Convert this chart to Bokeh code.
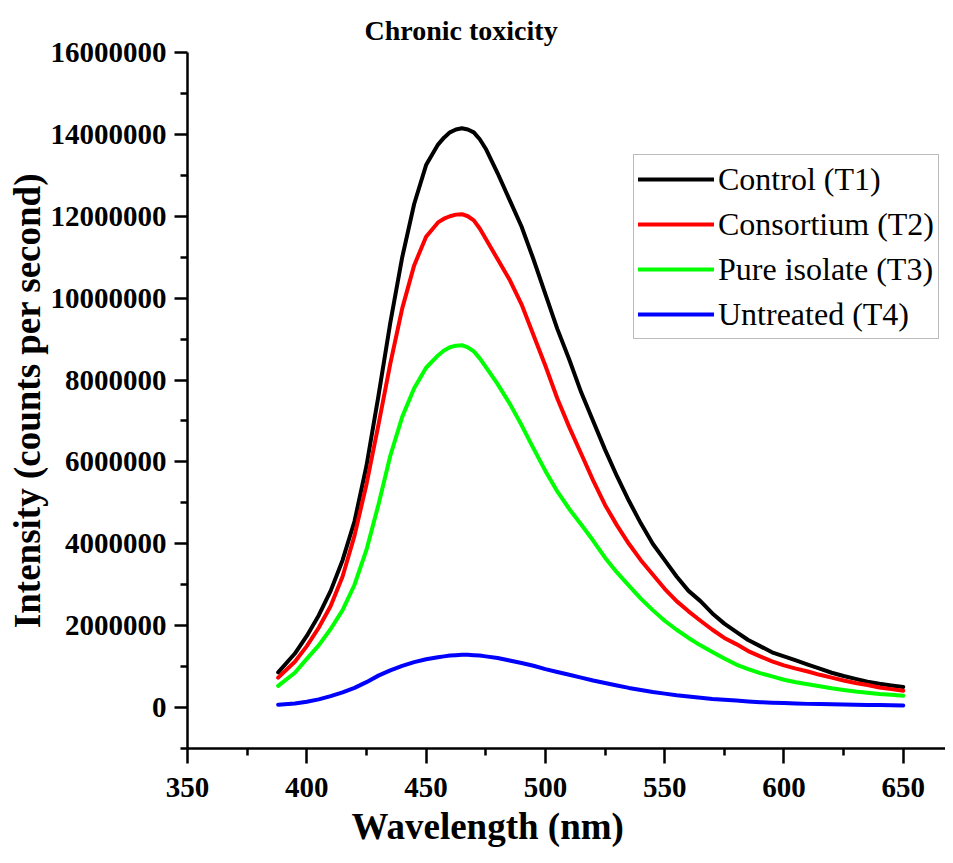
from bokeh.plotting import figure
from bokeh.models import FixedTicker, Range1d, Legend, LegendItem, Title, ColumnDataSource
from bokeh.embed import file_html
from bokeh.resources import INLINE

# ---- data (intensity in millions of counts per second) ----
wavelength = [388, 395, 400, 405, 410, 415, 420, 425, 430, 435, 440, 445, 450, 455, 457.5, 460, 462.5, 465,
              467.5, 470, 472.5, 475, 480, 485, 490, 495, 500, 505, 510, 515, 520, 525, 530, 535, 540, 545,
              550, 555, 560, 565, 570, 575, 580, 585, 590, 595, 600, 605, 610, 615, 620, 625,
              630, 635, 640, 645, 650]
control_t1 = [0.86, 1.32, 1.75, 2.25, 2.85, 3.6, 4.55, 5.9, 7.6, 9.4, 11.0, 12.3, 13.25, 13.75, 13.92, 14.05, 14.12, 14.15,
              14.12, 14.05, 13.88, 13.65, 13.05, 12.4, 11.75, 10.95, 10.1, 9.25, 8.5, 7.7, 7.0, 6.3, 5.65, 5.05, 4.5, 4.0,
              3.6, 3.2, 2.85, 2.6, 2.3, 2.05, 1.85, 1.65, 1.5, 1.35, 1.25, 1.15, 1.05, 0.95, 0.85, 0.77,
              0.70, 0.63, 0.58, 0.54, 0.50]
consortium_t2 = [0.73, 1.12, 1.50, 1.95, 2.48, 3.2, 4.2, 5.45, 6.9, 8.4, 9.75, 10.8, 11.5, 11.85, 11.94, 12.0, 12.04, 12.05,
                 12.0, 11.9, 11.7, 11.45, 10.95, 10.45, 9.85, 9.1, 8.35, 7.55, 6.85, 6.2, 5.55, 4.95, 4.45, 4.0, 3.6, 3.25,
                 2.9, 2.6, 2.35, 2.12, 1.9, 1.7, 1.55, 1.38, 1.25, 1.13, 1.03, 0.95, 0.88, 0.80, 0.73, 0.66,
                 0.60, 0.55, 0.49, 0.45, 0.41]
pure_isolate_t3 = [0.53, 0.85, 1.19, 1.52, 1.92, 2.38, 3.0, 3.85, 4.95, 6.15, 7.1, 7.8, 8.3, 8.6, 8.72, 8.8, 8.84, 8.85,
                   8.8, 8.7, 8.53, 8.32, 7.9, 7.43, 6.9, 6.33, 5.78, 5.28, 4.85, 4.47, 4.08, 3.66, 3.3, 2.98, 2.66, 2.38,
                   2.12, 1.9, 1.7, 1.52, 1.36, 1.2, 1.05, 0.94, 0.84, 0.76, 0.68, 0.62, 0.57, 0.52, 0.47, 0.43,
                   0.39, 0.36, 0.33, 0.31, 0.29]
untreated_t4 = [0.07, 0.10, 0.14, 0.20, 0.28, 0.37, 0.48, 0.62, 0.78, 0.91, 1.02, 1.11, 1.18, 1.23, 1.25, 1.27, 1.28, 1.29,
                1.29, 1.28, 1.27, 1.25, 1.21, 1.15, 1.09, 1.02, 0.94, 0.87, 0.80, 0.73, 0.66, 0.60, 0.54, 0.48, 0.43, 0.38,
                0.34, 0.30, 0.27, 0.24, 0.21, 0.19, 0.17, 0.15, 0.13, 0.12, 0.11, 0.10, 0.09, 0.085, 0.08, 0.075,
                0.07, 0.065, 0.06, 0.055, 0.05]
UNIT = 1_000_000

series_names = ["Control (T1)", "Consortium (T2)", "Pure isolate (T3)", "Untreated (T4)"]
series_values = [control_t1, consortium_t2, pure_isolate_t3, untreated_t4]
series_colors = ["#000000", "#ff0000", "#00ff00", "#0000ff"]

x_ticks = [350, 400, 450, 500, 550, 600, 650]
x_minor = [375, 425, 475, 525, 575, 625]
y_ticks = [0, 2000000, 4000000, 6000000, 8000000, 10000000, 12000000, 14000000, 16000000]
y_tick_labels = ["0", "2000000", "4000000", "6000000", "8000000", "10000000", "12000000", "14000000", "16000000"]
y_minor = [-1000000, 1000000, 3000000, 5000000, 7000000, 9000000, 11000000, 13000000, 15000000]

FONT = "Liberation Serif"

p = figure(width=945, height=855, output_backend="svg", toolbar_location=None,
           x_range=Range1d(350, 667.7), y_range=Range1d(-1000000, 16000000),
           min_border_left=187, min_border_right=0, min_border_top=52, min_border_bottom=107)
p.background_fill_color = "white"
p.border_fill_color = "white"
p.outline_line_color = None
p.xgrid.visible = False
p.ygrid.visible = False

# title
p.title.text = "Chronic toxicity"
p.title.text_font = FONT
p.title.text_font_size = "28px"
p.title.text_font_style = "bold"
p.title.text_color = "black"
p.title.align = "left"
p.title.offset = 177
p.title.standoff = 13

renderers = []
for name, vals, col in zip(series_names, series_values, series_colors):
    src = ColumnDataSource(dict(x=wavelength, y=[v * UNIT for v in vals]))
    r = p.line("x", "y", source=src, line_color=col, line_width=4, line_join="round", line_cap="round")
    renderers.append(r)

for ax in (p.xaxis[0], p.yaxis[0]):
    ax.axis_line_width = 2.5
    ax.major_tick_line_width = 2.5
    ax.minor_tick_line_width = 2.5
    ax.major_tick_in = 0
    ax.minor_tick_in = 0
    ax.major_label_text_font = FONT
    ax.major_label_text_font_style = "bold"
    ax.major_label_text_font_size = "29px"
    ax.major_label_text_color = "black"
    ax.axis_line_color = "black"
    ax.major_tick_line_color = "black"
    ax.minor_tick_line_color = "black"

p.xaxis[0].ticker = FixedTicker(ticks=x_ticks, minor_ticks=x_minor)
p.xaxis[0].major_tick_out = 15
p.xaxis[0].minor_tick_out = 7
p.xaxis[0].major_label_standoff = 14

p.yaxis[0].ticker = FixedTicker(ticks=y_ticks, minor_ticks=y_minor)
p.yaxis[0].major_label_overrides = {t: s for t, s in zip(y_ticks, y_tick_labels)}
p.yaxis[0].major_tick_out = 13
p.yaxis[0].minor_tick_out = 7
p.yaxis[0].major_label_standoff = 8
p.yaxis[0].axis_label = "Intensity (counts per second)"
p.yaxis[0].axis_label_text_font = FONT
p.yaxis[0].axis_label_text_font_style = "bold"
p.yaxis[0].axis_label_text_font_size = "37px"
p.yaxis[0].axis_label_text_color = "black"
p.yaxis[0].axis_label_standoff = 0

# x-axis title, placed below the axis (off-centre as in the original)
xlabel = Title(text="Wavelength (nm)", align="left", offset=164, standoff=9,
               text_font=FONT, text_font_style="bold", text_font_size="37px", text_color="black")
p.add_layout(xlabel, "below")

legend = Legend(items=[LegendItem(label=n, renderers=[r]) for n, r in zip(series_names, renderers)],
                location=(446, 409))
legend.label_text_font = FONT
legend.label_text_font_size = "32px"
legend.label_text_color = "black"
legend.glyph_width = 76
legend.glyph_height = 40
legend.label_height = 40
legend.label_standoff = 4
legend.spacing = 5
legend.padding = 4
legend.margin = 0
legend.border_line_color = "#777777"
legend.border_line_width = 1.5
legend.background_fill_alpha = 1
p.add_layout(legend, "center")

open("out.html", "w").write(file_html(p, INLINE))
